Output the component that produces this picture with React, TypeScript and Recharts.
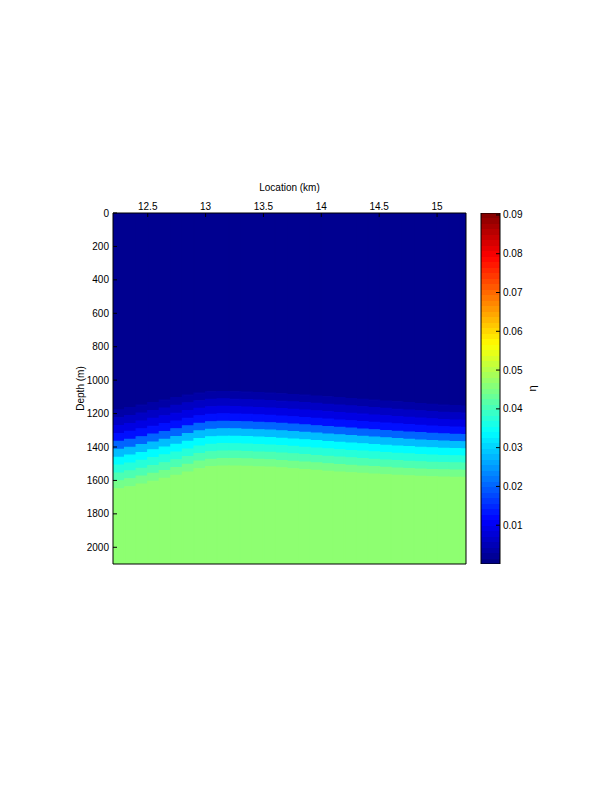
import React from "react";
import { ComposedChart, BarChart, Bar, Line, XAxis, YAxis } from "recharts";

// column centres (km) of the model grid
const columns = [
  12.25, 12.35, 12.45, 12.55, 12.65, 12.75, 12.85, 12.95, 13.05, 13.15, 13.25,
  13.35, 13.45, 13.55, 13.65, 13.75, 13.85, 13.95, 14.05, 14.15, 14.25, 14.35,
  14.45, 14.55, 14.65, 14.75, 14.85, 14.95, 15.05, 15.15, 15.25,
];
// depth (m) where eta starts to rise above the background
const gradTop = [
  1178, 1165, 1150, 1135, 1120, 1105, 1090, 1078, 1070, 1068, 1070, 1072, 1075,
  1078, 1082, 1086, 1090, 1095, 1100, 1105, 1110, 1115, 1120, 1125, 1130, 1135,
  1140, 1145, 1150, 1153, 1155,
];
// depth (m) where eta reaches the lower plateau
const gradBase = [
  1650, 1638, 1622, 1605, 1588, 1570, 1550, 1530, 1518, 1514, 1514, 1516, 1519,
  1521, 1525, 1530, 1535, 1540, 1545, 1550, 1554, 1558, 1562, 1566, 1570, 1573,
  1576, 1578, 1580, 1581, 1582,
];
// bands inside the transition zone: end fraction of the zone and eta value
const bandEdges = [0.1, 0.2, 0.3, 0.4, 0.5, 0.6, 0.7, 0.8, 0.9, 1.0];
const bandEta = [0.0034, 0.0061, 0.0088, 0.0126, 0.0203, 0.0281, 0.0338, 0.0373, 0.0408, 0.0443];
const etaAbove = 0.0015;
const etaBelow = 0.0465;

const depthMax = 2100;
const depthTicks = [0, 200, 400, 600, 800, 1000, 1200, 1400, 1600, 1800, 2000];
const kmDomain = [12.2, 15.25];
const kmTicks = [12.5, 13, 13.5, 14, 14.5, 15];
const etaMax = 0.0905;
const etaTicks = [0.01, 0.02, 0.03, 0.04, 0.05, 0.06, 0.07, 0.08, 0.09];

const FONT = "'Liberation Sans', Arial, Helvetica, sans-serif";
const tickStyle = { fontSize: 10, fill: "#000", fontFamily: FONT };

function jet(v: number) {
  const t = v / etaMax;
  const c = (x: number) => Math.round(255 * Math.max(0, Math.min(1, x)));
  const r = c(Math.min(4 * t - 1.5, -4 * t + 4.5));
  const g = c(Math.min(4 * t - 0.5, -4 * t + 3.5));
  const b = c(Math.min(4 * t + 0.5, -4 * t + 2.5));
  return `rgb(${r},${g},${b})`;
}

const table = columns.map((x, i) => {
  const row: Record<string, number> = { x, above: gradTop[i] };
  let prev = 0;
  bandEdges.forEach((f, k) => {
    row[`b${k}`] = (gradBase[i] - gradTop[i]) * (f - prev);
    prev = f;
  });
  row.below = depthMax - gradBase[i];
  return row;
});

const layers = [
  { key: "above", eta: etaAbove },
  ...bandEta.map((eta, k) => ({ key: `b${k}`, eta })),
  { key: "below", eta: etaBelow },
];

// 64-step colormap for the colour bar
const jetStops: { off: number; col: string }[] = [];
for (let k = 0; k < 64; k++) {
  const col = jet(((k + 0.5) / 64) * etaMax);
  jetStops.push({ off: k / 64, col }, { off: (k + 1) / 64, col });
}

const axisCommon = {
  axisLine: { stroke: "#000" },
  tickLine: { stroke: "#000" },
  tickSize: -4,
  allowDataOverflow: true,
};

export default function App() {
  return (
    <div style={{ position: "absolute", left: 0, top: 0, width: 612, height: 792, background: "#fff" }}>
      <svg width={0} height={0} style={{ position: "absolute" }}>
        <defs>
          <linearGradient id="jetbar" x1="0" y1="1" x2="0" y2="0">
            {jetStops.map((s, i) => (
              <stop key={i} offset={s.off} stopColor={s.col} />
            ))}
          </linearGradient>
        </defs>
      </svg>

      <div style={{ position: "absolute", left: 0, top: 0 }}>
        <ComposedChart
          width={612}
          height={792}
          data={table}
          barCategoryGap={0}
          barGap={0}
          margin={{ top: 183, left: 47, right: 145, bottom: 227 }}
        >
          <XAxis
            {...axisCommon}
            xAxisId="km"
            dataKey="x"
            type="number"
            orientation="top"
            domain={kmDomain}
            ticks={kmTicks}
            height={30}
            tickMargin={7}
            tick={tickStyle}
            label={{ value: "Location (km)", position: "insideTop", offset: 1, style: tickStyle }}
          />
          <XAxis
            {...axisCommon}
            xAxisId="kmb"
            dataKey="x"
            type="number"
            orientation="bottom"
            domain={kmDomain}
            ticks={kmTicks}
            height={1}
            tick={false}
          />
          <YAxis
            {...axisCommon}
            yAxisId="depth"
            reversed
            domain={[0, depthMax]}
            ticks={depthTicks}
            width={66}
            tickMargin={8}
            tick={tickStyle}
            label={{ value: "Depth (m)", angle: -90, position: "center", style: tickStyle }}
          />
          <YAxis
            {...axisCommon}
            yAxisId="depthR"
            orientation="right"
            reversed
            domain={[0, depthMax]}
            ticks={depthTicks}
            width={1}
            tick={false}
          />
          {layers.map((l) => (
            <Bar
              key={l.key}
              dataKey={l.key}
              xAxisId="km"
              yAxisId="depth"
              stackId="eta"
              fill={jet(l.eta)}
              stroke={jet(l.eta)}
              strokeWidth={1.2}
              isAnimationActive={false}
            />
          ))}
          {/* invisible series so the mirrored box axes get their scales */}
          <Line
            dataKey="above"
            xAxisId="kmb"
            yAxisId="depthR"
            stroke="none"
            dot={false}
            activeDot={false}
            isAnimationActive={false}
          />
        </ComposedChart>
      </div>

      <div style={{ position: "absolute", left: 470, top: 0 }}>
        <BarChart
          width={142}
          height={792}
          data={[{ name: "η", eta: etaMax }]}
          barCategoryGap={0}
          margin={{ top: 213, left: 11, right: 48, bottom: 228 }}
        >
          <XAxis dataKey="name" hide />
          <YAxis
            orientation="right"
            domain={[0, etaMax]}
            allowDataOverflow
            ticks={etaTicks}
            tickFormatter={(v: number) => v.toFixed(2)}
            width={64}
            tickSize={-4}
            tickMargin={7}
            tick={tickStyle}
            axisLine={false}
            tickLine={{ stroke: "#000" }}
            label={{ value: "η", angle: -90, position: "center", style: { ...tickStyle, fontSize: 11 } }}
          />
          <Bar dataKey="eta" fill="url(#jetbar)" stroke="#000" strokeWidth={1} isAnimationActive={false} />
        </BarChart>
      </div>
    </div>
  );
}
